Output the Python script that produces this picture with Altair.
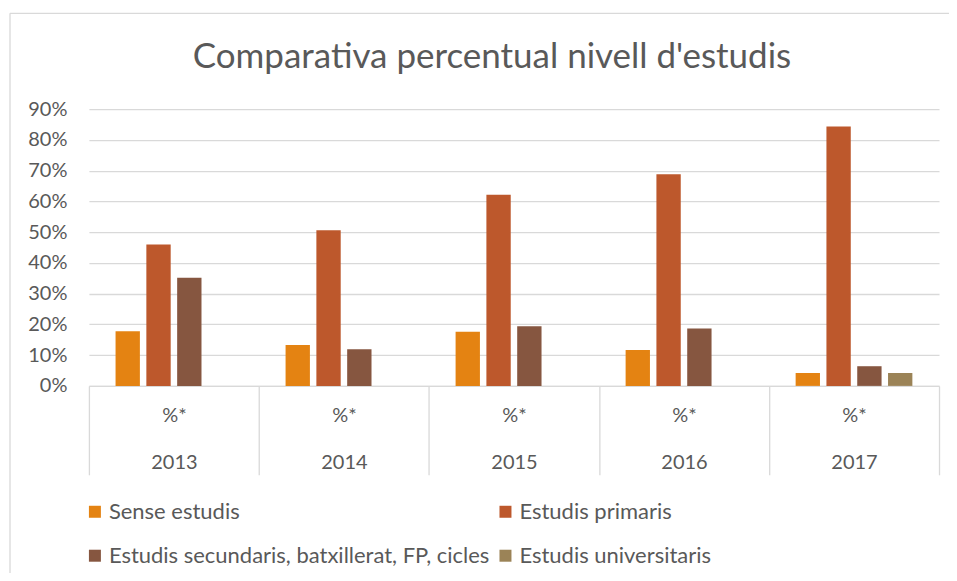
import altair as alt
import pandas as pd

years = ["2013", "2014", "2015", "2016", "2017"]
series = ["Sense estudis", "Estudis primaris",
          "Estudis secundaris, batxillerat, FP, cicles", "Estudis universitaris"]
colors = ["#E48312", "#BD582C", "#865640", "#9B8357"]
# legend fills column by column: reorder so rows read like the reference
legend_order = [series[0], series[2], series[1], series[3]]
legend_colors = [colors[0], colors[2], colors[1], colors[3]]

sense = [17.8, 13.3, 17.6, 11.7, 4.2]
primaris = [46.0, 50.6, 62.2, 68.8, 84.4]
secundaris = [35.2, 11.9, 19.4, 18.7, 6.4]
universitaris = [None, None, None, None, 4.2]

rows = []
for name, vals in zip(series, [sense, primaris, secundaris, universitaris]):
    for y, v in zip(years, vals):
        if v is not None:
            rows.append({"year": y, "serie": name, "value": v})
df = pd.DataFrame(rows)

FONT = "Lato"
TXT = "#595959"
GRID = "#D9D9D9"

bars = alt.Chart(df).mark_bar().encode(
    x=alt.X("year:N", sort=years,
            scale=alt.Scale(paddingInner=0, paddingOuter=0),
            axis=alt.Axis(title=None, labelAngle=0, domainColor=GRID, domainWidth=1.3,
                          tickBand="extent", tickSize=89, tickColor=GRID, tickWidth=1.3,
                          labelExpr="datum.label ? ['%*', datum.label] : ''",
                          labelLineHeight=47,
                          labelPadding=-69, labelFontSize=20, labelFont=FONT,
                          labelColor=TXT)),
    xOffset=alt.XOffset("serie:N", sort=series,
                        scale=alt.Scale(domain=series, paddingInner=0.21, paddingOuter=0.865)),
    y=alt.Y("value:Q", scale=alt.Scale(domain=[0, 90], nice=False),
            axis=alt.Axis(title=None, values=list(range(0, 100, 10)),
                          labelExpr="datum.value + '%'", domain=False, ticks=False,
                          gridColor=GRID, gridWidth=1.3, labelPadding=22,
                          labelFontSize=20, labelFont=FONT, labelColor=TXT)),
    color=alt.Color("serie:N",
                    scale=alt.Scale(domain=legend_order, range=legend_colors),
                    legend=alt.Legend(title=None, orient="none", legendX=-5, legendY=392,
                                      columns=2, columnPadding=4, rowPadding=22,
                                      symbolType="square", symbolSize=144,
                                      symbolStrokeWidth=0, labelOffset=3,
                                      labelFontSize=22, labelFont=FONT, labelColor=TXT,
                                      labelLimit=600)),
)

border_data = alt.Data(values=[{"a": 1}])
left_border = alt.Chart(border_data).mark_rule(color=GRID, strokeWidth=1.3).encode(
    x=alt.value(-79), y=alt.value(-96), y2=alt.value(480))
top_border = alt.Chart(border_data).mark_rule(color=GRID, strokeWidth=1.3).encode(
    x=alt.value(-79), x2=alt.value(880), y=alt.value(-96))

chart = alt.layer(left_border, top_border, bars).properties(
    width=851, height=277,
    title=alt.TitleParams("Comparativa percentual nivell d'estudis", fontSize=35,
                          font=FONT, color=TXT, fontWeight="normal",
                          anchor="middle", dx=-22, offset=-62),
    padding={"left": 81, "top": 101, "right": 10, "bottom": 187},
    autosize="none",
).configure_view(stroke=None)

chart.save("out.html", embed_options={"renderer": "svg", "actions": False})
